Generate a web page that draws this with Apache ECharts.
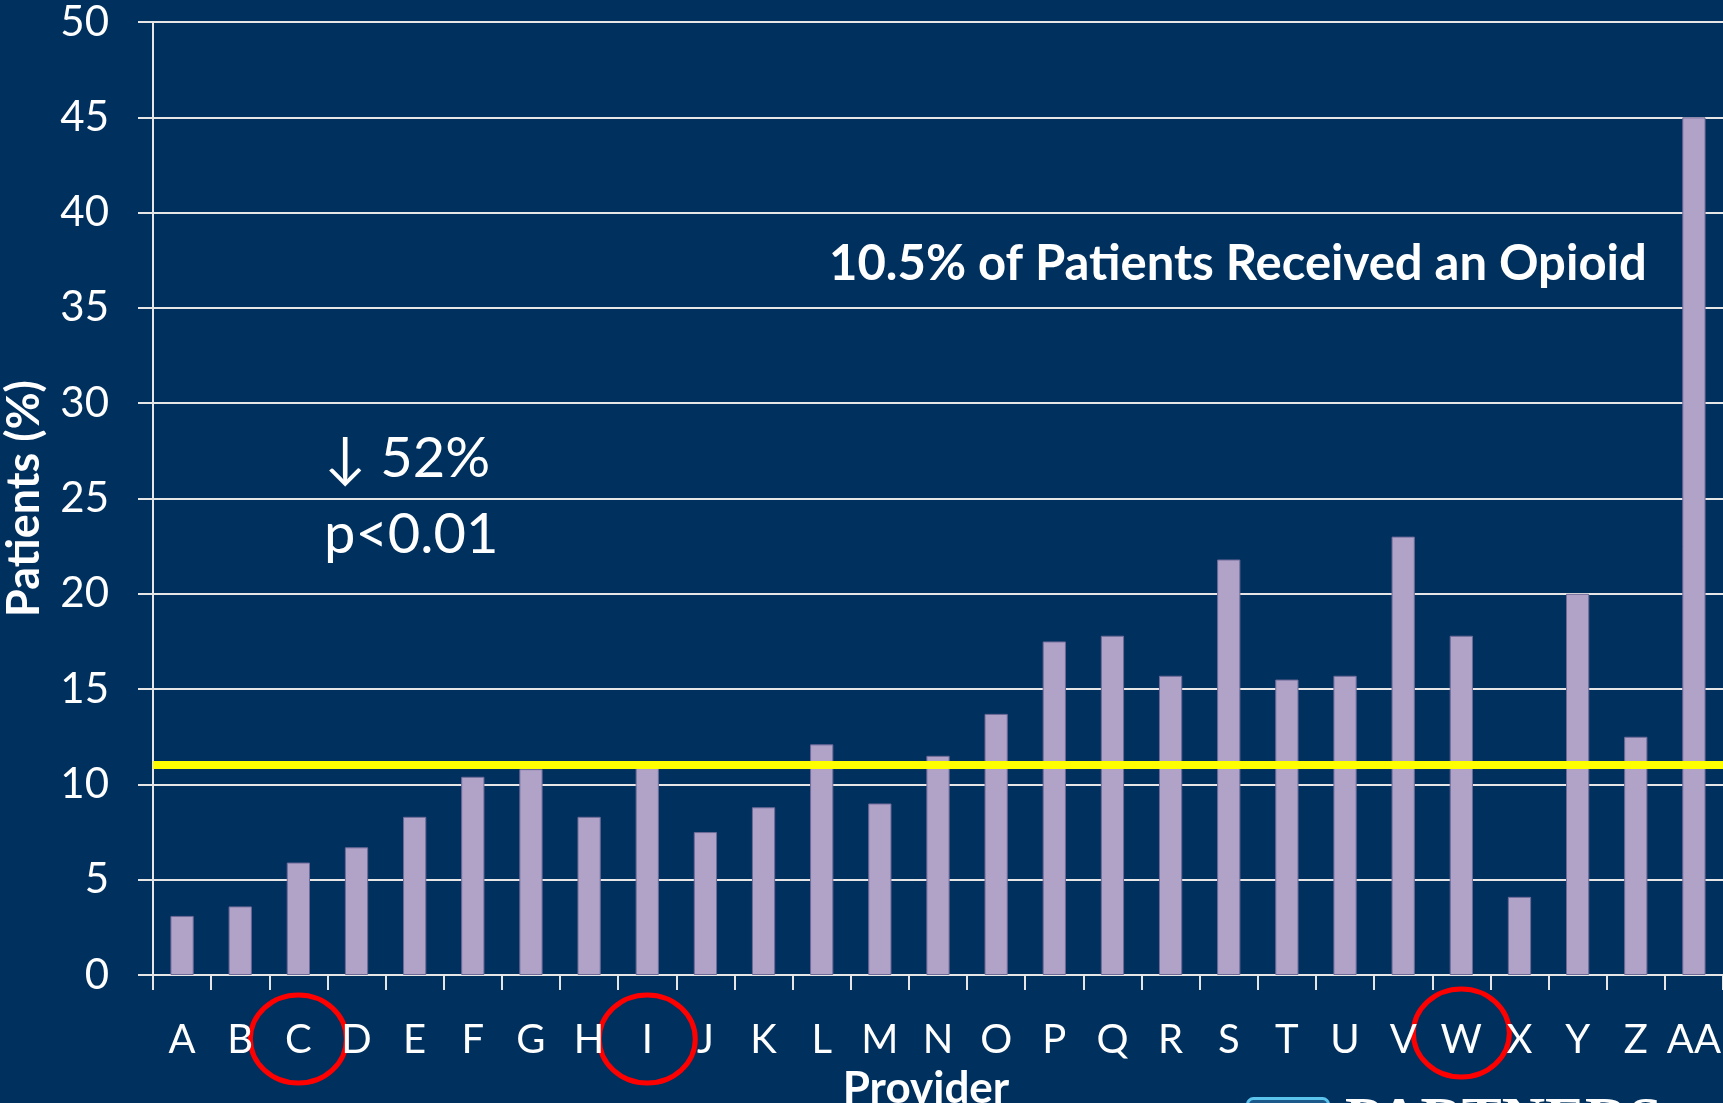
<!DOCTYPE html>
<html>
<head>
<meta charset="UTF-8">
<title>Patients (%) by Provider</title>
<style>
  html, body { margin: 0; padding: 0; background: #00305E; }
  #main { width: 1723px; height: 1103px; }
</style>
</head>
<body>
<div id="main"></div>
<script src="https://cdn.jsdelivr.net/npm/echarts@6/dist/echarts.min.js"></script>
<script>
// providers on the x axis
var providers = ['A', 'B', 'C', 'D', 'E', 'F', 'G', 'H', 'I', 'J', 'K', 'L', 'M', 'N',
  'O', 'P', 'Q', 'R', 'S', 'T', 'U', 'V', 'W', 'X', 'Y', 'Z', 'AA'];
// % of patients given an opioid
var patientPct = [3.1, 3.6, 5.9, 6.7, 8.3, 10.4, 10.8, 8.3, 11.0, 7.5, 8.8, 12.1, 9.0, 11.5,
  13.7, 17.5, 17.8, 15.7, 21.8, 15.5, 15.7, 23.0, 17.8, 4.1, 20.0, 12.5, 45.0];
var referenceLine = 11.05;
var circled = ['C', 'I', 'W'];
var yTicks = [0, 5, 10, 15, 20, 25, 30, 35, 40, 45, 50];

var FONT = 'Lato';
var chart = echarts.init(document.getElementById('main'));

chart.setOption({
  backgroundColor: '#00305E',
  animation: false,
  grid: { left: 153, right: 0, top: 22, bottom: 128, containLabel: false, outerBoundsMode: 'none' },
  xAxis: {
    type: 'category',
    data: providers,
    name: 'Provider',
    nameLocation: 'middle',
    nameGap: 92,
    nameTextStyle: { color: '#fff', fontFamily: FONT, fontWeight: 'bold', fontSize: 44,
      padding: [0, 24, 0, 0] },
    axisLine: { lineStyle: { color: '#E6E6E6', width: 2 } },
    axisTick: { show: true, length: 15, lineStyle: { color: '#E6E6E6', width: 2 } },
    axisLabel: { color: '#fff', fontFamily: FONT, fontSize: 40, margin: 45, interval: 0 }
  },
  yAxis: {
    type: 'value',
    min: yTicks[0],
    max: yTicks[yTicks.length - 1],
    interval: 5,
    name: 'Patients (%)',
    nameLocation: 'middle',
    nameGap: 106,
    nameTextStyle: { color: '#fff', fontFamily: FONT, fontWeight: 'bold', fontSize: 45 },
    axisLine: { show: true, lineStyle: { color: '#E6E6E6', width: 2 } },
    axisTick: { show: true, length: 15, lineStyle: { color: '#E6E6E6', width: 2 } },
    splitLine: { lineStyle: { color: '#E6E6E6', width: 2 } },
    axisLabel: { color: '#fff', fontFamily: FONT, fontSize: 42, margin: 44 }
  },
  series: [{
    type: 'bar',
    data: patientPct,
    barCategoryGap: '60%',
    itemStyle: { color: '#B1A2C7', borderColor: '#6E6A98', borderWidth: 1 },
    markLine: {
      silent: true,
      symbol: 'none',
      label: { show: false },
      lineStyle: { color: '#FFFF00', width: 8, type: 'solid' },
      data: [{ yAxis: referenceLine }]
    }
  }],
  graphic: [
    {
      type: 'text', left: 829, top: 240,
      style: { text: '10.5% of Patients Received an Opioid', fill: '#fff',
        font: 'bold 49px ' + FONT }
    },
    {
      type: 'text', left: 324, top: 421,
      style: { text: '\u2193 52%\np<0.01', fill: '#fff', font: '56px ' + FONT, lineHeight: 76 }
    },
    {
      type: 'rect', left: 1246, top: 1097,
      shape: { width: 81, height: 30, r: 6 },
      style: { fill: '#1C5A8C', stroke: '#5BC4EC', lineWidth: 3 }
    },
    {
      type: 'text', left: 1345, top: 1092,
      style: { text: 'PARTNERS', fill: '#fff', font: 'bold 60px "Liberation Serif"' }
    }
  ]
});

// red circles around highlighted providers
var ellipses = circled.map(function (p, i) {
  var px = chart.convertToPixel({ xAxisIndex: 0 }, p);
  return {
    id: 'circ' + i,
    type: 'ellipse',
    shape: { cx: px, cy: p === 'W' ? 1033 : 1039, rx: 48, ry: 44 },
    style: { fill: 'none', stroke: '#FF0000', lineWidth: 5 }
  };
});
chart.setOption({ graphic: ellipses });
</script>
</body>
</html>
